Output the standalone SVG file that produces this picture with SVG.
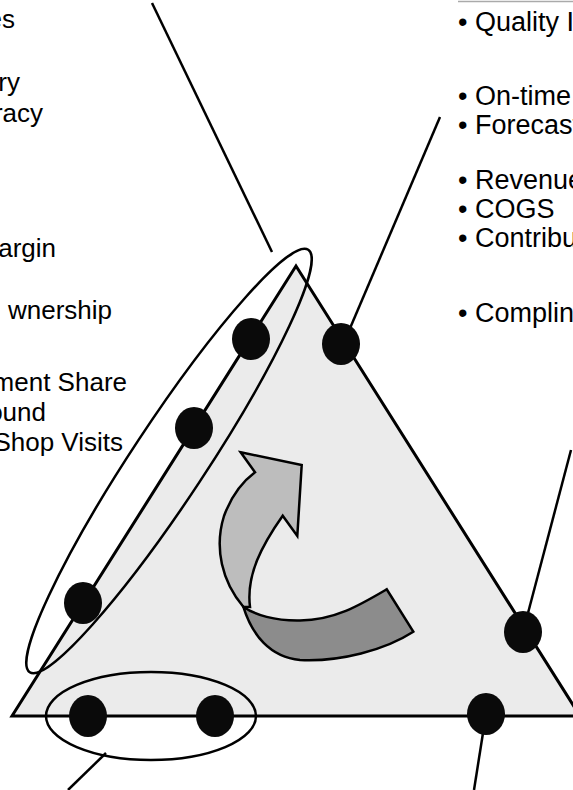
<svg xmlns="http://www.w3.org/2000/svg" width="573" height="790" viewBox="0 0 573 790">
  <style>
    .lbl { font-family: "Liberation Sans", Arial, sans-serif; font-size: 26px; fill: #000; }
    .lbl-r { font-family: "Liberation Sans", Arial, sans-serif; font-size: 27px; fill: #000; }
    .edge { fill: none; stroke: #000; stroke-width: 2.5; }
    .ring { fill: none; stroke: #000; stroke-width: 2.5; }
    .dot { fill: #0a0a0a; }
  </style>

  <rect width="573" height="790" fill="#fff"/>

  <!-- left column of measures (cut off by the page edge) -->
  <g id="left-labels">
    <text class="lbl" x="15" y="28" text-anchor="end">es</text>
    <text class="lbl" x="20" y="91" text-anchor="end">ry</text>
    <text class="lbl" x="43" y="122" text-anchor="end">racy</text>
    <text class="lbl" x="56" y="257" text-anchor="end">argin</text>
    <text class="lbl" x="112" y="319" text-anchor="end">wnership</text>
    <text class="lbl" x="127" y="391" text-anchor="end">ment Share</text>
    <text class="lbl" x="46" y="421" text-anchor="end">ound</text>
    <text class="lbl" x="123" y="451" text-anchor="end">Shop Visits</text>
  </g>

  <!-- right column of measures -->
  <g id="right-labels">
    <line x1="458" y1="1.5" x2="573" y2="1.5" stroke="#aaa" stroke-width="1.5"/>
    <text class="lbl-r" x="458" y="31">• Quality I</text>
    <text class="lbl-r" x="458" y="105">• On-time</text>
    <text class="lbl-r" x="458" y="134">• Forecast</text>
    <text class="lbl-r" x="458" y="189">• Revenue</text>
    <text class="lbl-r" x="458" y="218">• COGS</text>
    <text class="lbl-r" x="458" y="247">• Contribut</text>
    <text class="lbl-r" x="458" y="322">• Complin</text>
  </g>

  <!-- the triangle -->
  <g id="triangle">
    <path d="M296 266 L12 716 L580 716 Z" fill="#ebebeb" stroke="#000" stroke-width="3" stroke-linejoin="miter"/>
  </g>

  <!-- curved block arrow -->
  <g id="arrow" stroke="#000" stroke-width="2.5" stroke-linejoin="miter">
    <path d="M240.7 452.3 L301.7 465 L297.3 536 L282.7 515.7 C262 545 246 575 250 607 L243.3 606.7 C222 582 214 548 224 516 C231 497 242 482 255 472.3 Z" fill="#bdbdbd"/>
    <path d="M243.3 606.7 C255 615 275 621 300 620.5 C335 620 360 605 386.7 589.3 L413.3 631.7 C385 650 340 662 300 660 C270 657 252 635 243.3 606.7 Z" fill="#8c8c8c"/>
  </g>

  <!-- groupings -->
  <g id="group-left">
    <ellipse class="ring" cx="169" cy="461" rx="253" ry="37" transform="rotate(-56.6 169 461)"/>
  </g>
  <g id="group-bottom">
    <ellipse class="ring" cx="151" cy="716" rx="105" ry="44"/>
  </g>

  <!-- connectors -->
  <g id="connectors">
    <line class="edge" x1="152" y1="3" x2="272" y2="252"/>
    <line class="edge" x1="440" y1="117" x2="345" y2="340"/>
    <line class="edge" x1="571" y1="450" x2="523" y2="632"/>
    <line class="edge" x1="106" y1="753" x2="68" y2="790"/>
    <line class="edge" x1="486" y1="714" x2="474" y2="790"/>
  </g>

  <!-- nodes -->
  <g id="node-1"><ellipse class="dot" cx="251" cy="339" rx="19" ry="21"/></g>
  <g id="node-2"><ellipse class="dot" cx="341" cy="344" rx="19" ry="21"/></g>
  <g id="node-3"><ellipse class="dot" cx="194" cy="428" rx="19" ry="21"/></g>
  <g id="node-4"><ellipse class="dot" cx="83" cy="603" rx="19" ry="21"/></g>
  <g id="node-5"><ellipse class="dot" cx="523" cy="632" rx="19" ry="21"/></g>
  <g id="node-6"><ellipse class="dot" cx="88" cy="716" rx="19" ry="21"/></g>
  <g id="node-7"><ellipse class="dot" cx="215" cy="716" rx="19" ry="21"/></g>
  <g id="node-8"><ellipse class="dot" cx="486" cy="714" rx="19" ry="21"/></g>
</svg>
